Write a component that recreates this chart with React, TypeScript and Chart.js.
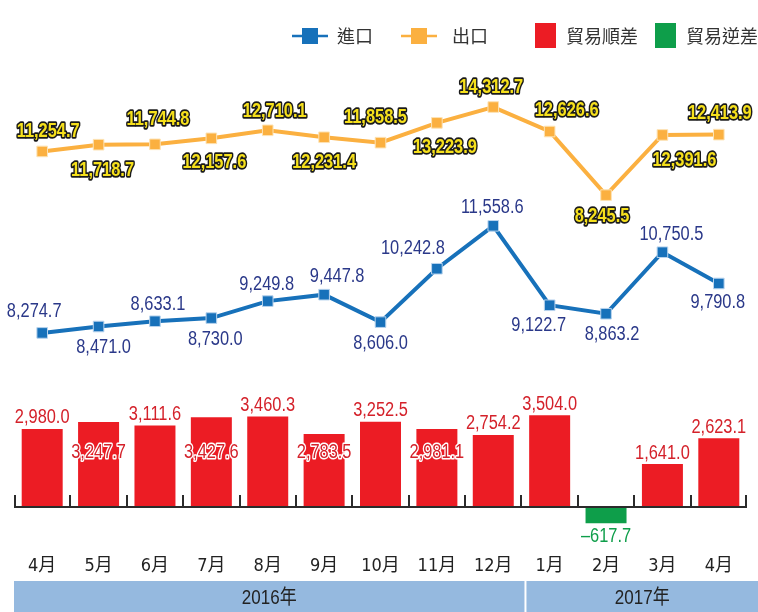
import React, { useEffect, useRef } from 'react';
import { Chart, registerables } from 'chart.js';

Chart.register(...registerables);

const months = ['4月', '5月', '6月', '7月', '8月', '9月', '10月', '11月', '12月', '1月', '2月', '3月', '4月'];
const years = ['2016年', '2017年'];
const yearMonthCounts = [9, 4];
const exportsData = [11254.7, 11718.7, 11744.8, 12157.6, 12710.1, 12231.4, 11858.5, 13223.9, 14312.7, 12626.6, 8245.5, 12391.6, 12413.9];
const importsData = [8274.7, 8471.0, 8633.1, 8730.0, 9249.8, 9447.8, 8606.0, 10242.8, 11558.6, 9122.7, 8863.2, 10750.5, 9790.8];
const balanceData = [2980.0, 3247.7, 3111.6, 3427.6, 3460.3, 2783.5, 3252.5, 2981.1, 2754.2, 3504.0, -617.7, 1641.0, 2623.1];
const legendLabels = ['進口', '出口', '貿易順差', '貿易逆差'];

// label nudges (pixels, relative to the point)
const exportLabelOffsets = [[6, -20], [4, 26], [3, -25], [3, 24], [7, -19], [0, 25], [-5, -25], [8, 25], [-2, -20], [17, -21], [-4, 21], [22, 26], [1, -21]];
const importLabelOffsets = [[-8, -21], [5, 21], [3, -17], [4, 21], [-1, -17], [13, -18], [0, 21], [-24, -20], [-1, -18], [-11, 20], [6, 21], [9, -18], [-1, 19]];
const balanceLabelInside = [false, true, false, true, false, true, false, true, false, false, false, false, false];
const INSIDE_LABEL_LEVEL = 2100;

const BLUE = '#1771ba';
const ORANGE = '#fbb040';
const RED = '#ec1c24';
const GREEN = '#0e9e4a';
const NUM_FONT = '"Liberation Sans", Arial, sans-serif';
const TXT_FONT = '"Liberation Sans", "Noto Sans CJK TC", "Noto Sans CJK SC", sans-serif';
const CJK_FONT = '"Liberation Sans Narrow", "DejaVu Sans Condensed", "Noto Sans CJK TC", "Noto Sans CJK SC", sans-serif';
const NARROW = 0.82;

const fmt = (v: number) => {
  const s = Math.abs(v).toLocaleString('en-US', { minimumFractionDigits: 1, maximumFractionDigits: 1 });
  return v < 0 ? '–' + s : s;
};

function drawText(ctx: CanvasRenderingContext2D, text: string, x: number, y: number, font: string, fill: string, stroke?: string, sw = 3, align: CanvasTextAlign = 'center', sx = 1) {
  ctx.save();
  ctx.translate(x, y);
  ctx.scale(sx, 1);
  ctx.font = font;
  ctx.textAlign = align;
  ctx.textBaseline = 'middle';
  if (stroke) {
    ctx.lineJoin = 'round';
    ctx.lineWidth = sw;
    ctx.strokeStyle = stroke;
    ctx.strokeText(text, 0, 0);
  }
  ctx.fillStyle = fill;
  ctx.fillText(text, 0, 0);
  ctx.restore();
}

const overlayPlugin = {
  id: 'overlay',
  afterDatasetsDraw(chart: any) {
    const ctx: CanvasRenderingContext2D = chart.ctx;
    const xs = chart.scales.x;
    const yb = chart.scales.yBar;
    const base = yb.getPixelForValue(0);
    const n = months.length;
    const boundary = (i: number) => {
      if (i <= 0) return xs.left;
      if (i >= n) return xs.right;
      return (xs.getPixelForValue(i - 1) + xs.getPixelForValue(i)) / 2;
    };
    ctx.save();
    // baseline with ticks
    ctx.strokeStyle = '#2b2b2b';
    ctx.lineWidth = 2;
    ctx.beginPath();
    ctx.moveTo(xs.left, base);
    ctx.lineTo(xs.right, base);
    for (let i = 0; i <= n; i++) {
      const px = Math.round(boundary(i)) + (i === n ? -1 : i === 0 ? 1 : 0);
      ctx.moveTo(px, base);
      ctx.lineTo(px, base - 12);
    }
    ctx.stroke();

    // export labels
    const me = chart.getDatasetMeta(0);
    me.data.forEach((p: any, i: number) => {
      const [dx, dy] = exportLabelOffsets[i];
      drawText(ctx, fmt(exportsData[i]), p.x + dx, p.y + dy, `bold 20px ${NUM_FONT}`, '#f6e01c', '#1a1a1a', 3.5, 'center', NARROW);
    });
    // import labels
    const mi = chart.getDatasetMeta(1);
    mi.data.forEach((p: any, i: number) => {
      const [dx, dy] = importLabelOffsets[i];
      drawText(ctx, fmt(importsData[i]), p.x + dx, p.y + dy, `20px ${NUM_FONT}`, '#2a3889', undefined, 0, 'center', NARROW);
    });
    // balance labels
    const mb = chart.getDatasetMeta(2);
    mb.data.forEach((b: any, i: number) => {
      const v = balanceData[i];
      if (v < 0) {
        drawText(ctx, fmt(v), b.x, b.y + 13, `20px ${NUM_FONT}`, GREEN, undefined, 0, 'center', NARROW);
      } else if (balanceLabelInside[i]) {
        drawText(ctx, fmt(v), b.x, yb.getPixelForValue(INSIDE_LABEL_LEVEL), `20px ${NUM_FONT}`, '#d4212a', '#ffffff', 3, 'center', NARROW);
      } else {
        drawText(ctx, fmt(v), b.x, b.y - 11, `20px ${NUM_FONT}`, '#d4212a', '#ffffff', 3, 'center', NARROW);
      }
    });

    // year band
    const bandTop = chart.height - 31;
    let start = 0;
    years.forEach((yr, k) => {
      const end = start + yearMonthCounts[k];
      const x0 = k === 0 ? xs.left : boundary(start) + 5;
      const x1 = k === years.length - 1 ? chart.width : boundary(end) + 3;
      ctx.fillStyle = '#95b9df';
      ctx.fillRect(x0, bandTop, x1 - x0, chart.height - bandTop);
      drawText(ctx, yr, (x0 + x1) / 2, bandTop + 17, `20px ${TXT_FONT}`, '#222222', undefined, 0, 'center', 0.85);
      start = end;
    });

    // legend
    const ly = 36;
    const lineIcon = (x0: number, color: string) => {
      ctx.strokeStyle = color;
      ctx.lineWidth = 2.5;
      ctx.beginPath();
      ctx.moveTo(x0, ly);
      ctx.lineTo(x0 + 36, ly);
      ctx.stroke();
      ctx.fillStyle = color;
      ctx.fillRect(x0 + 10, ly - 8, 16, 16);
    };
    const lf = `18px "Noto Sans CJK TC", "Noto Sans CJK SC", sans-serif`;
    lineIcon(292, BLUE);
    drawText(ctx, legendLabels[0], 337, ly, lf, '#333333', undefined, 0, 'left');
    lineIcon(401, ORANGE);
    drawText(ctx, legendLabels[1], 452, ly, lf, '#333333', undefined, 0, 'left');
    ctx.fillStyle = RED;
    ctx.fillRect(535, 23, 21, 25);
    drawText(ctx, legendLabels[2], 566, ly, lf, '#333333', undefined, 0, 'left');
    ctx.fillStyle = GREEN;
    ctx.fillRect(655, 23, 21, 25);
    drawText(ctx, legendLabels[3], 686, ly, lf, '#333333', undefined, 0, 'left');
    ctx.restore();
  },
};

export default function App() {
  const ref = useRef<HTMLCanvasElement>(null);
  useEffect(() => {
    if (!ref.current) return;
    const chart = new Chart(ref.current, {
      type: 'bar',
      data: {
        labels: months,
        datasets: [
          {
            type: 'line',
            label: '出口',
            data: exportsData,
            yAxisID: 'yExp',
            borderColor: ORANGE,
            borderWidth: 4,
            pointStyle: 'rect',
            pointRadius: 7.5,
            pointBackgroundColor: ORANGE,
            pointBorderColor: '#fde3b5',
            pointBorderWidth: 1,
            tension: 0,
          } as any,
          {
            type: 'line',
            label: '進口',
            data: importsData,
            yAxisID: 'yImp',
            borderColor: BLUE,
            borderWidth: 4,
            pointStyle: 'rect',
            pointRadius: 7.5,
            pointBackgroundColor: BLUE,
            pointBorderColor: '#b9d4ee',
            pointBorderWidth: 1,
            tension: 0,
          } as any,
          {
            type: 'bar',
            label: '貿易差額',
            data: balanceData,
            yAxisID: 'yBar',
            backgroundColor: balanceData.map((v) => (v < 0 ? GREEN : RED)),
            borderWidth: 0,
            barPercentage: 0.727,
            categoryPercentage: 1,
          } as any,
        ],
      },
      options: {
        animation: false,
        responsive: false,
        layout: { padding: { left: 14, right: 11, top: 60, bottom: 28 } },
        plugins: { legend: { display: false }, tooltip: { enabled: false } },
        scales: {
          x: {
            offset: true,
            grid: { display: false, drawTicks: false },
            border: { display: false },
            ticks: { padding: 7, color: '#222222', font: { family: CJK_FONT, size: 18 } },
          },
          yExp: { display: false, min: -16092, max: 17554 },
          yImp: { display: false, min: 1667, max: 16644 },
          yBar: { display: false, min: -1578, max: 17062 },
        },
      },
      plugins: [overlayPlugin],
    });
    return () => chart.destroy();
  }, []);
  return (
    <div style={{ position: 'fixed', left: 0, top: 0, width: 758, height: 612, background: '#ffffff' }}>
      <canvas ref={ref} width={758} height={612} style={{ width: 758, height: 612, display: 'block' }} />
    </div>
  );
}
